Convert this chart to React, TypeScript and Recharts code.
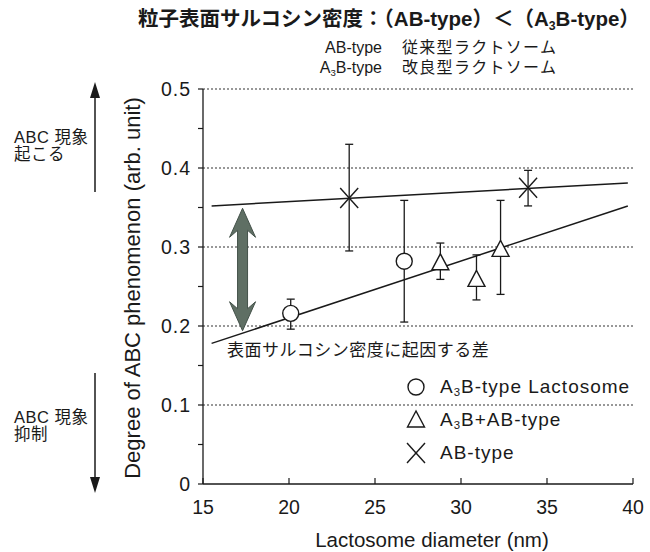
import { ComposedChart, Scatter, XAxis, YAxis, ErrorBar, ReferenceLine } from "recharts";

const FONT = "'Liberation Sans', Arial, 'Noto Sans CJK JP', sans-serif";

// A3B-type Lactosome (circles)
const a3bX = [20.1, 26.7];
const a3bY = [0.216, 0.282];
const a3bLo = [0.196, 0.205];
const a3bHi = [0.234, 0.359];

// A3B+AB-type (triangles)
const mixX = [28.8, 30.9, 32.3];
const mixY = [0.28, 0.259, 0.297];
const mixLo = [0.259, 0.233, 0.24];
const mixHi = [0.305, 0.29, 0.359];

// AB-type (crosses)
const abX = [23.5, 33.9];
const abY = [0.362, 0.375];
const abLo = [0.295, 0.352];
const abHi = [0.43, 0.397];

// fitted lines
const fitX = [15.5, 39.7];
const fitAB = [0.352, 0.381];
const fitA3B = [0.178, 0.352];

// difference arrow
const diffX = 17.3;
const diffTop = 0.349;
const diffBottom = 0.194;

const xTicks = [15, 20, 25, 30, 35, 40];
const yTicks = [0, 0.05, 0.1, 0.15, 0.2, 0.25, 0.3, 0.35, 0.4, 0.45, 0.5];
const yLabels = [0, 0.1, 0.2, 0.3, 0.4, 0.5];
const gridY = [0.1, 0.2, 0.3, 0.4, 0.5];

const toPoints = (xs: number[], ys: number[], lo: number[], hi: number[]) =>
  xs.map((x, i) => ({ x, y: ys[i], err: [ys[i] - lo[i], hi[i] - ys[i]] }));

const a3bData = toPoints(a3bX, a3bY, a3bLo, a3bHi);
const mixData = toPoints(mixX, mixY, mixLo, mixHi);
const abData = toPoints(abX, abY, abLo, abHi);
const fitABData = fitX.map((x, i) => ({ x, y: fitAB[i] }));
const fitA3BData = fitX.map((x, i) => ({ x, y: fitA3B[i] }));

const INK = "#1a1a1a";

const CircleShape = (p: any) => (
  <circle cx={p.cx} cy={p.cy} r={8} fill="#fff" stroke={INK} strokeWidth={1.4} />
);
const TriShape = (p: any) => (
  <polygon
    points={`${p.cx},${p.cy - 9} ${p.cx - 8.5},${p.cy + 7} ${p.cx + 8.5},${p.cy + 7}`}
    fill="#fff"
    stroke={INK}
    strokeWidth={1.4}
  />
);
const CrossShape = (p: any) => (
  <g stroke={INK} strokeWidth={1.4}>
    <line x1={p.cx - 9} y1={p.cy - 10} x2={p.cx + 9} y2={p.cy + 10} />
    <line x1={p.cx - 9} y1={p.cy + 10} x2={p.cx + 9} y2={p.cy - 10} />
  </g>
);
const NoShape = () => <g />;

const DiffArrow = (p: any) => {
  const x = p.x1;
  const t = Math.min(p.y1, p.y2);
  const b = Math.max(p.y1, p.y2);
  const hl = 29, hw = 13, sw = 5, notch = 22;
  const pts = [
    [x, t], [x + hw, t + hl], [x + sw, t + notch], [x + sw, b - notch], [x + hw, b - hl],
    [x, b], [x - hw, b - hl], [x - sw, b - notch], [x - sw, t + notch], [x - hw, t + hl],
  ].map((q) => q.join(",")).join(" ");
  return <polygon points={pts} fill="#5f6f64" stroke="#44524a" strokeWidth={1} />;
};

const XTick = (p: any) => {
  const axisY = p.y;
  return (
    <g>
      <line x1={p.x} x2={p.x} y1={axisY} y2={axisY - 6} stroke={INK} strokeWidth={1.2} />
      <text x={p.x} y={axisY + 30} textAnchor="middle" fontSize={19.5} fill={INK} fontFamily={FONT}>
        {p.payload.value}
      </text>
    </g>
  );
};

const YTick = (p: any) => {
  const v = p.payload.value;
  const major = yLabels.some((m) => Math.abs(m - v) < 1e-6);
  return (
    <g>
      <line x1={p.x - 5} x2={p.x} y1={p.y} y2={p.y} stroke={INK} strokeWidth={1.2} />
      {major && (
        <text x={p.x - 12} y={p.y + 7} textAnchor="end" fontSize={19.5} letterSpacing={1} fill={INK} fontFamily={FONT}>
          {v}
        </text>
      )}
    </g>
  );
};

const Sub3 = () => <sub style={{ fontSize: "0.6em", verticalAlign: "-0.3em", lineHeight: 0 }}>3</sub>;

const legendRows = [
  { key: "c", label: <>A<Sub3 />B-type Lactosome</>, shape: CircleShape },
  { key: "t", label: <>A<Sub3 />B+AB-type</>, shape: TriShape },
  { key: "x", label: <>AB-type</>, shape: CrossShape },
];

export default function App() {
  return (
    <div style={{ position: "absolute", left: 0, top: 0, width: 650, height: 552, background: "#fff", fontFamily: FONT, color: INK }}>
      <ComposedChart width={650} height={552} margin={{ top: 89, right: 17, bottom: 28, left: 143 }}>
        <XAxis
          type="number"
          dataKey="x"
          domain={[15, 40]}
          ticks={xTicks}
          tickLine={false}
          tickSize={0}
          tickMargin={0}
          height={40}
          axisLine={{ stroke: INK, strokeWidth: 1.3 }}
          tick={<XTick />}
          allowDataOverflow
        />
        <YAxis
          type="number"
          dataKey="y"
          domain={[0, 0.5]}
          ticks={yTicks}
          interval={0}
          tickLine={false}
          tickSize={0}
          tickMargin={0}
          width={60}
          axisLine={{ stroke: INK, strokeWidth: 1.3 }}
          tick={<YTick />}
          allowDataOverflow
        />
        {gridY.map((g) => (
          <ReferenceLine key={g} y={g} stroke="#333" strokeWidth={1.1} strokeDasharray="2 2" />
        ))}
        <Scatter data={fitABData} line={{ stroke: INK, strokeWidth: 1.5 }} shape={NoShape} isAnimationActive={false} />
        <Scatter data={fitA3BData} line={{ stroke: INK, strokeWidth: 1.5 }} shape={NoShape} isAnimationActive={false} />
        <ReferenceLine
          segment={[{ x: diffX, y: diffTop }, { x: diffX, y: diffBottom }]}
          shape={DiffArrow}
        />
        <Scatter data={a3bData} shape={CircleShape} isAnimationActive={false}>
          <ErrorBar dataKey="err" direction="y" width={4} stroke={INK} strokeWidth={1.3} />
        </Scatter>
        <Scatter data={mixData} shape={TriShape} isAnimationActive={false}>
          <ErrorBar dataKey="err" direction="y" width={4} stroke={INK} strokeWidth={1.3} />
        </Scatter>
        <Scatter data={abData} shape={CrossShape} isAnimationActive={false}>
          <ErrorBar dataKey="err" direction="y" width={4} stroke={INK} strokeWidth={1.3} />
        </Scatter>
      </ComposedChart>

      {/* title */}
      <div style={{ position: "absolute", left: 138, top: 6, fontSize: 20.5, fontWeight: "bold", whiteSpace: "nowrap", lineHeight: "26px" }}>
        粒子表面サルコシン密度：（AB-type）＜（A<Sub3 />B-type）
      </div>
      <div style={{ position: "absolute", left: 300, top: 38, fontSize: 16, lineHeight: "20px", display: "grid", gridTemplateColumns: "82px 175px", columnGap: 20 }}>
        <div style={{ textAlign: "right" }}>AB-type</div>
        <div style={{ letterSpacing: 1.3 }}>従来型ラクトソーム</div>
        <div style={{ textAlign: "right" }}>A<Sub3 />B-type</div>
        <div style={{ letterSpacing: 1.3 }}>改良型ラクトソーム</div>
      </div>

      {/* left side annotations */}
      <div style={{ position: "absolute", left: 14, top: 129, fontSize: 16.5, lineHeight: "17px", letterSpacing: 0.5 }}>
        ABC 現象<br />起こる
      </div>
      <div style={{ position: "absolute", left: 14, top: 409, fontSize: 16.5, lineHeight: "17px", letterSpacing: 0.5 }}>
        ABC 現象<br />抑制
      </div>
      <svg width={650} height={552} style={{ position: "absolute", left: 0, top: 0, pointerEvents: "none" }}>
        <line x1={95} y1={192} x2={95} y2={92} stroke={INK} strokeWidth={1.5} />
        <polygon points="95,82 90,98 100,98" fill={INK} />
        <line x1={95} y1={373} x2={95} y2={482} stroke={INK} strokeWidth={1.5} />
        <polygon points="95,493 90,477 100,477" fill={INK} />
      </svg>

      {/* y axis title */}
      <div style={{ position: "absolute", left: 133, top: 288, transform: "translate(-50%, -50%) rotate(-90deg)", fontSize: 22, whiteSpace: "nowrap" }}>
        Degree of ABC phenomenon (arb. unit)
      </div>
      {/* x axis title */}
      <div style={{ position: "absolute", left: 432, top: 540, transform: "translate(-50%, -50%)", fontSize: 20.5, whiteSpace: "nowrap" }}>
        Lactosome diameter (nm)
      </div>

      {/* in-plot note */}
      <div style={{ position: "absolute", left: 227, top: 341, fontSize: 17, letterSpacing: 0.5, whiteSpace: "nowrap", lineHeight: "19px" }}>
        表面サルコシン密度に起因する差
      </div>

      {/* legend */}
      <div style={{ position: "absolute", left: 404, top: 370 }}>
        {legendRows.map((r) => {
          const Shape = r.shape;
          return (
            <div key={r.key} style={{ display: "flex", alignItems: "center", height: 33, fontSize: 19, letterSpacing: 1, whiteSpace: "nowrap" }}>
              <svg width={24} height={28} style={{ marginRight: 12 }}>
                <Shape cx={12} cy={14} />
              </svg>
              <span>{r.label}</span>
            </div>
          );
        })}
      </div>
    </div>
  );
}
